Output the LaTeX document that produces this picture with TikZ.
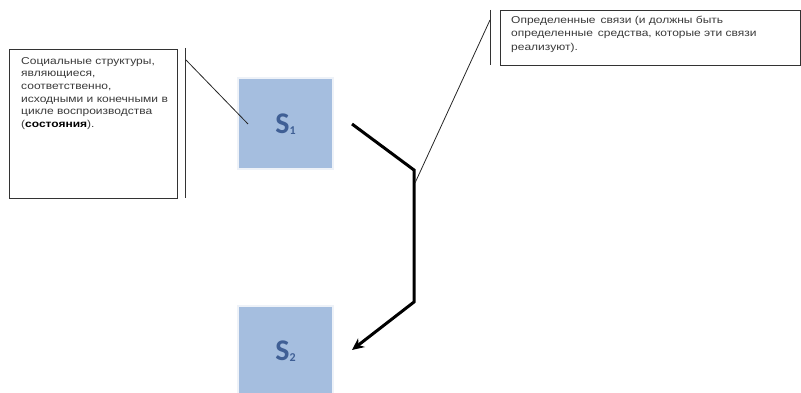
\documentclass[tikz,border=0pt]{standalone}
\usepackage{fontspec}
\setmainfont{Liberation Sans}[FakeStretch=1.2]
\newfontfamily\carl{Carlito}[UprightFont=*-Bold]
\usetikzlibrary{arrows.meta}
\definecolor{sfill}{HTML}{A5BEDF}
\definecolor{sborder}{HTML}{EEF2F8}
\definecolor{stext}{HTML}{3F5F95}
\definecolor{ctext}{HTML}{3A3A3A}
\tikzset{
  note/.style={draw=black!80, line width=1pt, fill=white, inner sep=0pt},
  notetext/.style={anchor=north west, align=left, text=ctext, font=\fontsize{10}{12.7}\selectfont, inner sep=0pt},
  sbox/.style={draw=sborder, line width=2pt, fill=sfill, minimum width=95pt, minimum height=91pt, inner sep=0pt, text=stext, font=\carl\fontsize{30}{30}\selectfont},
  bracket/.style={draw=black!80, line width=1pt},
  leader/.style={draw=black!85, line width=0.8pt},
  flow/.style={draw=black, line width=3pt, -{Stealth[length=12pt,width=11pt]}}
}
\begin{document}
\begin{tikzpicture}[x=1pt,y=-1pt]
\useasboundingbox (0,0) rectangle (801,393);
% left note
\node[note, minimum width=168pt, minimum height=149pt, anchor=north west] (lnote) at (9,49) {};
\node[notetext] (ltext) at (21,57) {Социальные структуры,\\являющиеся,\\соответственно,\\исходными и конечными в\\цикле воспроизводства\\(\textbf{\color{black}состояния}).};
\coordinate (lbt) at (185,48);
\coordinate (lbb) at (185,198);
\draw[bracket] (lbt) -- (lbb);
% right note
\node[note, minimum width=300pt, minimum height=55pt, anchor=north west] (rnote) at (500,10) {};
\node[notetext, font=\fontsize{10}{13.5}\selectfont] (rtext) at (511,15.5) {Определенные\, связи (и должны быть\\определенные\, средства, которые эти связи\\реализуют).};
\coordinate (rbt) at (490,10);
\coordinate (rbb) at (490,65);
\draw[bracket] (rbt) -- (rbb);
% S boxes
\node[sbox] (s1) at (285.5,124) {S\raisebox{-1pt}{\fontsize{12}{12}\selectfont 1}};
\node[sbox, anchor=north] (s2) at (285.5,305) {S\raisebox{-1pt}{\fontsize{12}{12}\selectfont 2}};
% flow arrow
\coordinate (a0) at (352,124);
\coordinate (a1) at (414,170);
\coordinate (a2) at (414,302);
\coordinate (a3) at (352,350);
\draw[flow, line join=miter] (a0) -- (a1) -- (a2) -- (a3);
% leaders
\coordinate (l1s) at (186,60);
\coordinate (l1e) at (248,124);
\draw[leader] (l1s) -- (l1e);
\coordinate (l2s) at (490,20);
\coordinate (l2e) at (415,183);
\draw[leader] (l2s) -- (l2e);
\end{tikzpicture}
\end{document}
